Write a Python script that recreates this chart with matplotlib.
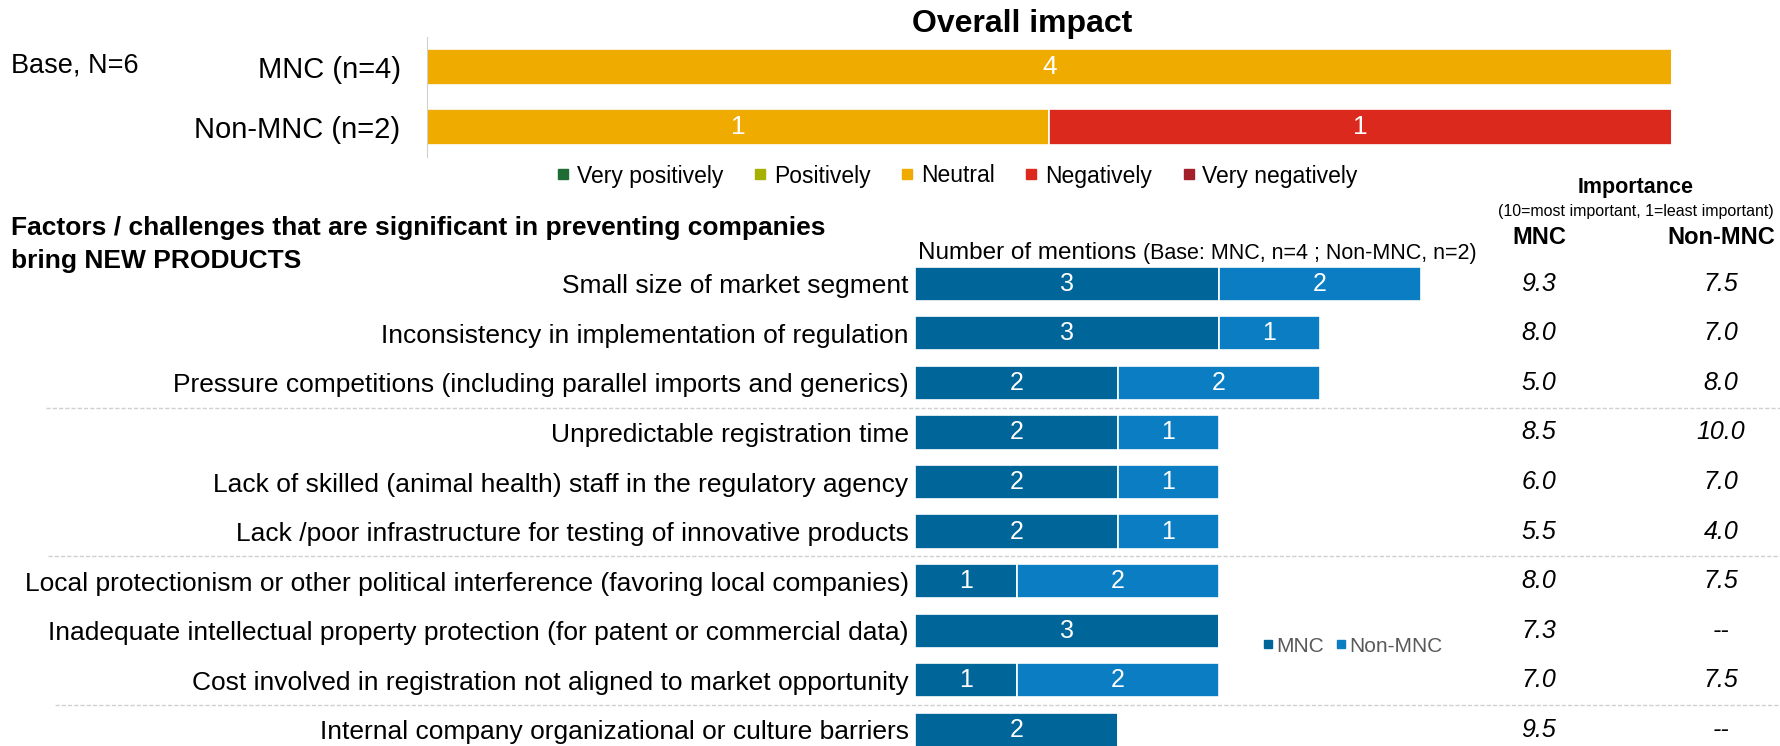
import numpy as np
import matplotlib.pyplot as plt
from matplotlib import font_manager
from matplotlib.lines import Line2D
from matplotlib.transforms import blended_transform_factory

# pick a narrow sans if available
names = {f.name for f in font_manager.fontManager.ttflist}
FONT = 'Liberation Sans Narrow' if 'Liberation Sans Narrow' in names else 'Liberation Sans'
plt.rcParams['font.family'] = [FONT, 'DejaVu Sans']

# overall impact (counts per group)
impact_groups = ['MNC (n=4)', 'Non-MNC (n=2)']
impact_levels = ['Very positively', 'Positively', 'Neutral', 'Negatively', 'Very negatively']
very_positive = [0, 0]
positive = [0, 0]
neutral = [4, 1]
negative = [0, 1]
very_negative = [0, 0]
impact_colors = ['#1f6b34', '#a5b000', '#f0ab00', '#dc291e', '#a31f2a']

# factors preventing new products
factors = [
    'Small size of market segment',
    'Inconsistency in implementation of regulation',
    'Pressure competitions (including parallel imports and generics)',
    'Unpredictable registration time',
    'Lack of skilled (animal health) staff in the regulatory agency',
    'Lack /poor infrastructure for testing of innovative products',
    'Local protectionism or other political interference (favoring local companies)',
    'Inadequate intellectual property protection (for patent or commercial data)',
    'Cost involved in registration not aligned to market opportunity',
    'Internal company organizational or culture barriers',
]
mnc_mentions = [3, 3, 2, 2, 2, 2, 1, 3, 1, 2]
non_mnc_mentions = [2, 1, 2, 1, 1, 1, 2, 0, 2, 0]
imp_mnc = [9.3, 8.0, 5.0, 8.5, 6.0, 5.5, 8.0, 7.3, 7.0, 9.5]
imp_non_mnc = [7.5, 7.0, 8.0, 10.0, 7.0, 4.0, 7.5, None, 7.5, None]
separators_after = [2, 5, 8]
separator_start = [46, 48, 55]

MNC_COL = '#006699'
NON_COL = '#0a7dc3'

W, H = 1781, 746
fig = plt.figure(figsize=(W / 100, H / 100), dpi=100)


def px_box(x0, y0, x1, y1):
    return [x0 / W, 1 - y1 / H, (x1 - x0) / W, (y1 - y0) / H]


# ---- top: overall impact, 100% stacked ----
ax1 = fig.add_axes(px_box(427, 37, 1672, 157))
series = [very_positive, positive, neutral, negative, very_negative]
totals = np.sum(series, axis=0)
left = np.zeros(len(impact_groups))
ypos = np.arange(len(impact_groups))
for vals, col in zip(series, impact_colors):
    vals = np.array(vals, dtype=float)
    share = vals / totals
    ax1.barh(ypos, share, left=left, height=0.6, color=col,
             edgecolor='white', linewidth=1.2)
    for y, v, s, l in zip(ypos, vals, share, left):
        if v > 0:
            ax1.text(l + s / 2, y, f'{int(v)}', ha='center', va='center',
                     color='white', fontsize=19)
    left += share
ax1.set_xlim(0, 1)
ax1.set_ylim(1.5, -0.5)
ax1.set_yticks(ypos, impact_groups, fontsize=21)
ax1.set_xticks([])
ax1.tick_params(axis='y', length=0, pad=19)
for s in ['top', 'right', 'bottom']:
    ax1.spines[s].set_visible(False)
ax1.spines['left'].set_color('#d0d0d0')
fig.text(1022 / W, 1 - 24 / H, 'Overall impact', ha='center', va='center',
         fontsize=23, fontweight='bold')

handles = [Line2D([], [], marker='s', linestyle='none', markersize=7,
                  color=c) for c in impact_colors]
fig.legend(handles, impact_levels, loc='center', bbox_to_anchor=(956 / W, 1 - 176 / H),
           ncol=5, frameon=False, fontsize=16.5, handletextpad=0.2,
           columnspacing=1.2, handlelength=0.8)

fig.text(11 / W, 1 - 65 / H, 'Base, N=6', fontsize=19.5, va='center')

# ---- bottom: number of mentions ----
unit = 101.1
ax2 = fig.add_axes(px_box(915.5, 259, 915.5 + 8.5 * unit, 746))
rows = np.arange(len(factors))
ax2.barh(rows, mnc_mentions, height=0.69, color=MNC_COL,
         edgecolor='white', linewidth=1.2)
ax2.barh(rows, non_mnc_mentions, left=mnc_mentions, height=0.69, color=NON_COL,
         edgecolor='white', linewidth=1.2)
for r, m, n in zip(rows, mnc_mentions, non_mnc_mentions):
    if m:
        ax2.text(m / 2, r, str(m), ha='center', va='center', color='white', fontsize=18)
    if n:
        ax2.text(m + n / 2, r, str(n), ha='center', va='center', color='white', fontsize=18)
ax2.set_xlim(0, 8.5)
ax2.set_ylim(-0.5 + 487 / 49.56, -0.5)
ax2.set_yticks(rows, factors, fontsize=19)
ax2.set_xticks([])
ax2.tick_params(axis='y', length=0, pad=5)
for s in ax2.spines.values():
    s.set_visible(False)

trans = blended_transform_factory(fig.transFigure, ax2.transData)
for r, x0 in zip(separators_after, separator_start):
    ax2.plot([x0 / W, 1.0], [r + 0.5, r + 0.5], transform=trans, color='#d0d0d0',
             linestyle=(0, (3, 1.5)), linewidth=1, clip_on=False)

for r, a, b in zip(rows, imp_mnc, imp_non_mnc):
    ax2.text(1539 / W, r, f'{a:.1f}', transform=trans, ha='center', va='center',
             fontsize=18, style='italic')
    ax2.text(1721 / W, r, '--' if b is None else f'{b:.1f}', transform=trans,
             ha='center', va='center', fontsize=18, style='italic')

fig.text(1636 / W, 1 - 188 / H, 'Importance', ha='center', va='center',
         fontsize=15.5, fontweight='bold')
fig.text(1636 / W, 1 - 211 / H, '(10=most important, 1=least important)',
         ha='center', va='center', fontsize=11.5)
fig.text(1539 / W, 1 - 237 / H, 'MNC', ha='center', va='center',
         fontsize=17, fontweight='bold')
fig.text(1721 / W, 1 - 237 / H, 'Non-MNC', ha='center', va='center',
         fontsize=17, fontweight='bold')

fig.text(11 / W, 1 - 228 / H, 'Factors / challenges that are significant in preventing companies',
         fontsize=19, fontweight='bold', va='center')
fig.text(11 / W, 1 - 261 / H, 'bring NEW PRODUCTS',
         fontsize=19, fontweight='bold', va='center')

t = fig.text(918 / W, 1 - 253 / H, 'Number of mentions ', fontsize=17.5, va='center')
fig.canvas.draw()
bb = t.get_window_extent()
fig.text(bb.x1 / W, 1 - 253 / H, '(Base: MNC, n=4 ; Non-MNC, n=2)', fontsize=15.5, va='center')

leg2 = [Line2D([], [], marker='s', linestyle='none', markersize=5.5, color=c)
        for c in [MNC_COL, NON_COL]]
fig.legend(leg2, ['MNC', 'Non-MNC'], loc='center left',
           bbox_to_anchor=(1243 / W, 1 - 646 / H), ncol=2, frameon=False,
           fontsize=15, handletextpad=0.1, columnspacing=0.5, handlelength=0.6,
           labelcolor='#595959')

fig.savefig('out.png', dpi=100)
